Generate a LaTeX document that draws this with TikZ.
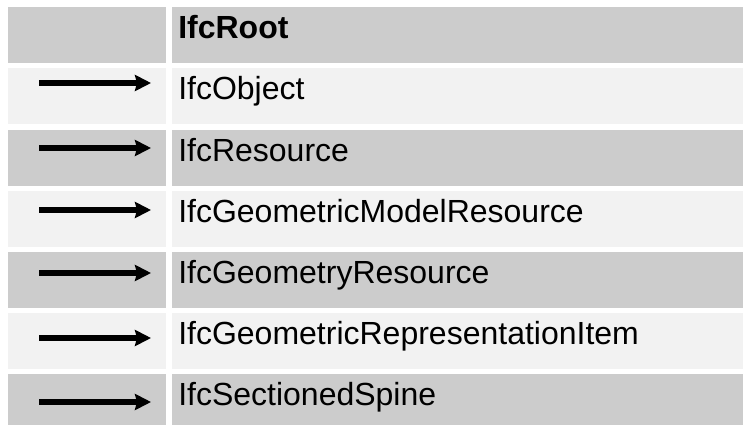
\documentclass[tikz,border=0pt]{standalone}
\usepackage{fontspec}
\setmainfont{Liberation Sans}
\usetikzlibrary{arrows.meta}
\definecolor{rowdark}{RGB}{204,204,204}
\definecolor{rowlight}{RGB}{242,242,242}

\tikzset{
    cell/.style={anchor=north west, inner sep=0pt, minimum height=42pt},
    lcell/.style={cell, minimum width=118.5pt},
    rcell/.style={cell, minimum width=428.25pt},
    cname/.style={anchor=base west, inner sep=0pt, font=\fontsize{24}{28}\selectfont},
    inherit/.style={line width=4.3pt, -{Stealth[length=12pt,width=12pt,inset=1.5pt]}}
}

\begin{document}
\begin{tikzpicture}[x=0.75pt, y=-0.75pt]
        \useasboundingbox (0,0) rectangle (743,425);
        % Header row
        \node[lcell, fill=rowdark] (l1) at (8,7) {};
        \node[rcell, fill=rowdark] (r1) at (172,7) {};
        \node[cname, font=\fontsize{24}{28}\selectfont\bfseries] (n1) at (178,38) {IfcRoot};
        % IfcObject
        \node[lcell, fill=rowlight] (l2) at (8,68) {};
        \node[rcell, fill=rowlight] (r2) at (172,68) {};
        \node[cname] (n2) at (178,99) {IfcObject};
        \coordinate (a2) at (39,83);
        \coordinate (b2) at (151,83);
        \draw[inherit] (a2) -- (b2);
        % IfcResource
        \node[lcell, fill=rowdark] (l3) at (8,130) {};
        \node[rcell, fill=rowdark] (r3) at (172,130) {};
        \node[cname] (n3) at (178,161) {IfcResource};
        \coordinate (a3) at (39,148);
        \coordinate (b3) at (151,148);
        \draw[inherit] (a3) -- (b3);
        % IfcGeometricModelResource
        \node[lcell, fill=rowlight] (l4) at (8,191) {};
        \node[rcell, fill=rowlight] (r4) at (172,191) {};
        \node[cname] (n4) at (178,222) {IfcGeometricModelResource};
        \coordinate (a4) at (39,210);
        \coordinate (b4) at (151,210);
        \draw[inherit] (a4) -- (b4);
        % IfcGeometryResource
        \node[lcell, fill=rowdark] (l5) at (8,252) {};
        \node[rcell, fill=rowdark] (r5) at (172,252) {};
        \node[cname] (n5) at (178,283) {IfcGeometryResource};
        \coordinate (a5) at (39,273);
        \coordinate (b5) at (151,273);
        \draw[inherit] (a5) -- (b5);
        % IfcGeometricRepresentationItem
        \node[lcell, fill=rowlight] (l6) at (8,313) {};
        \node[rcell, fill=rowlight] (r6) at (172,313) {};
        \node[cname] (n6) at (178,344) {IfcGeometricRepresentationItem};
        \coordinate (a6) at (39,338);
        \coordinate (b6) at (151,338);
        \draw[inherit] (a6) -- (b6);
        % IfcSectionedSpine
        \node[lcell, fill=rowdark, minimum height=38.25pt] (l7) at (8,374) {};
        \node[rcell, fill=rowdark, minimum height=38.25pt] (r7) at (172,374) {};
        \node[cname] (n7) at (178,405) {IfcSectionedSpine};
        \coordinate (a7) at (39,402);
        \coordinate (b7) at (151,402);
        \draw[inherit] (a7) -- (b7);
    \end{tikzpicture}
\end{document}
